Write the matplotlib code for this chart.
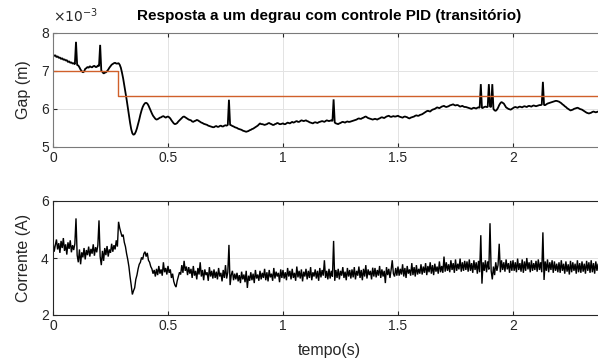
import numpy as np
import matplotlib
matplotlib.use("Agg")
import matplotlib.pyplot as plt

plt.rcParams['font.family'] = ['Liberation Sans', 'DejaVu Sans']

# sampling time (s), 5 ms
tempo = np.round(np.arange(0, 2.4001, 0.005), 3)

# gap (x 1e-3 m), one row per 0.1 s
gap = [
    7.42, 7.39, 7.41, 7.36, 7.38, 7.34, 7.35, 7.31, 7.33, 7.29, 7.30, 7.27, 7.28, 7.23, 7.25, 7.21, 7.22, 7.19, 7.20, 7.17,
    7.76, 7.15, 7.14, 7.09, 7.03, 6.99, 6.96, 6.98, 7.05, 7.07, 7.10, 7.08, 7.12, 7.10, 7.09, 7.12, 7.13, 7.10, 7.10, 7.14,
    7.12, 7.68, 7.00, 6.97, 6.93, 6.95, 6.96, 6.99, 7.03, 7.08, 7.12, 7.16, 7.18, 7.20, 7.21, 7.19, 7.19, 7.20, 7.16, 7.08,
    6.95, 6.80, 6.62, 6.44, 6.25, 6.05, 5.85, 5.64, 5.47, 5.36, 5.32, 5.34, 5.40, 5.49, 5.60, 5.72, 5.85, 5.96, 6.05, 6.11,
    6.15, 6.16, 6.14, 6.09, 6.02, 5.95, 5.88, 5.82, 5.78, 5.74, 5.72, 5.73, 5.75, 5.77, 5.78, 5.80, 5.81, 5.79, 5.77, 5.79,
    5.80, 5.78, 5.75, 5.70, 5.66, 5.62, 5.60, 5.61, 5.63, 5.67, 5.70, 5.73, 5.76, 5.79, 5.80, 5.78, 5.76, 5.74, 5.72, 5.71,
    5.70, 5.67, 5.66, 5.68, 5.69, 5.71, 5.70, 5.68, 5.66, 5.64, 5.63, 5.61, 5.60, 5.59, 5.58, 5.56, 5.55, 5.54, 5.53, 5.52,
    5.52, 5.54, 5.55, 5.53, 5.53, 5.55, 5.56, 5.54, 5.54, 5.56, 5.57, 5.56, 5.58, 6.24, 5.58, 5.57, 5.55, 5.54, 5.52, 5.51,
    5.50, 5.48, 5.47, 5.46, 5.45, 5.43, 5.42, 5.41, 5.40, 5.41, 5.42, 5.44, 5.45, 5.47, 5.48, 5.50, 5.52, 5.54, 5.56, 5.59,
    5.62, 5.60, 5.60, 5.59, 5.58, 5.59, 5.60, 5.62, 5.63, 5.61, 5.60, 5.58, 5.58, 5.60, 5.61, 5.63, 5.62, 5.60, 5.60, 5.61,
    5.62, 5.60, 5.60, 5.62, 5.64, 5.63, 5.62, 5.64, 5.66, 5.64, 5.65, 5.67, 5.68, 5.66, 5.66, 5.68, 5.70, 5.69, 5.68, 5.69,
    5.70, 5.68, 5.67, 5.65, 5.64, 5.63, 5.62, 5.64, 5.65, 5.64, 5.63, 5.65, 5.66, 5.67, 5.68, 5.67, 5.66, 5.68, 5.70, 5.69,
    5.68, 5.69, 5.70, 5.68, 6.25, 5.64, 5.62, 5.61, 5.60, 5.62, 5.63, 5.65, 5.66, 5.65, 5.64, 5.66, 5.67, 5.66, 5.66, 5.67,
    5.68, 5.69, 5.70, 5.71, 5.72, 5.74, 5.75, 5.74, 5.74, 5.76, 5.77, 5.79, 5.80, 5.78, 5.76, 5.75, 5.74, 5.73, 5.72, 5.73,
    5.74, 5.73, 5.72, 5.74, 5.75, 5.77, 5.78, 5.77, 5.76, 5.78, 5.80, 5.81, 5.82, 5.80, 5.79, 5.80, 5.81, 5.80, 5.80, 5.81,
    5.82, 5.80, 5.79, 5.78, 5.77, 5.79, 5.80, 5.79, 5.78, 5.76, 5.75, 5.77, 5.78, 5.79, 5.80, 5.82, 5.83, 5.82, 5.82, 5.84,
    5.85, 5.86, 5.88, 5.90, 5.92, 5.94, 5.95, 5.94, 5.93, 5.96, 5.98, 5.99, 6.00, 6.02, 6.04, 6.03, 6.02, 6.04, 6.06, 6.07,
    6.08, 6.06, 6.05, 6.06, 6.07, 6.09, 6.10, 6.11, 6.12, 6.10, 6.09, 6.10, 6.10, 6.08, 6.06, 6.07, 6.08, 6.06, 6.05, 6.05,
    6.04, 6.03, 6.02, 6.01, 6.00, 6.02, 6.03, 6.02, 6.01, 6.03, 6.04, 6.03, 6.65, 6.02, 6.03, 6.05, 6.06, 6.05, 6.05, 6.65,
    6.06, 6.05, 6.65, 6.00, 5.96, 5.95, 5.98, 6.03, 6.10, 6.15, 6.18, 6.16, 6.14, 6.09, 6.04, 6.02, 6.00, 5.99, 5.98, 6.00,
    6.02, 6.04, 6.05, 6.04, 6.03, 6.05, 6.06, 6.05, 6.04, 6.06, 6.07, 6.06, 6.05, 6.07, 6.08, 6.07, 6.06, 6.08, 6.09, 6.08,
    6.07, 6.08, 6.09, 6.10, 6.10, 6.11, 6.71, 6.10, 6.10, 6.12, 6.14, 6.15, 6.16, 6.17, 6.18, 6.19, 6.20, 6.21, 6.21, 6.20,
    6.19, 6.17, 6.15, 6.12, 6.10, 6.07, 6.05, 6.02, 6.00, 5.98, 5.96, 5.97, 5.98, 6.00, 6.01, 6.02, 6.03, 6.02, 6.00, 5.99,
    5.98, 5.96, 5.94, 5.92, 5.90, 5.89, 5.88, 5.89, 5.90, 5.92, 5.93, 5.92, 5.91, 5.92, 5.93, 5.92, 5.90, 5.91, 5.92, 5.92,
    5.91,
]

# reference (setpoint) step
ref_t = [0.0, 0.281, 0.281, 2.4]
ref_gap = [7.0, 7.0, 6.35, 6.35]

# coil current (A)
corrente = [
    4.58, 4.22, 4.45, 4.65, 4.30, 4.52, 4.18, 4.60, 4.35, 4.70, 4.25, 4.48, 4.12, 4.55, 4.32, 4.62, 4.20, 4.45, 4.28, 4.50,
    5.39, 4.10, 3.85, 4.30, 3.78, 4.20, 4.02, 4.35, 3.95, 4.28, 4.10, 4.40, 4.05, 4.32, 4.15, 4.48, 4.08, 4.38, 4.20, 4.45,
    5.32, 4.05, 3.75, 4.25, 3.90, 4.35, 4.10, 4.42, 4.05, 4.30, 4.18, 4.50, 4.22, 4.45, 4.30, 4.62, 4.40, 5.27, 5.05, 4.90,
    4.75, 4.82, 4.55, 4.40, 4.15, 3.95, 3.70, 3.35, 3.05, 2.72, 2.85, 2.95, 3.25, 3.40, 3.62, 3.78, 3.85, 4.02, 3.95, 4.15,
    4.22, 4.05, 4.18, 3.92, 3.85, 3.70, 3.62, 3.45, 3.58, 3.35, 3.62, 3.40, 3.72, 3.45, 3.60, 3.38, 3.85, 3.50, 3.65, 3.42,
    3.72, 3.48, 3.60, 3.30, 3.45, 3.18, 3.05, 2.98, 3.20, 3.35, 3.50, 3.42, 3.75, 3.48, 3.90, 3.55, 3.70, 3.40, 3.68, 3.45,
    3.62, 3.30, 3.72, 3.38, 3.55, 3.25, 3.65, 3.42, 3.85, 3.35, 3.58, 3.22, 3.60, 3.40, 3.50, 3.20, 3.68, 3.35, 3.55, 3.28,
    3.60, 3.30, 3.52, 3.25, 3.65, 3.35, 3.48, 3.18, 3.58, 3.30, 3.75, 3.28, 3.50, 4.46, 3.05, 3.40, 3.55, 3.22, 3.45, 3.25,
    3.48, 3.18, 3.40, 3.12, 3.52, 3.25, 3.42, 3.15, 3.55, 2.95, 3.38, 3.20, 3.50, 3.22, 3.45, 3.12, 3.58, 3.28, 3.42, 3.20,
    3.55, 3.25, 3.48, 3.30, 3.62, 3.22, 3.50, 3.18, 3.58, 3.32, 3.45, 3.20, 3.65, 3.28, 3.52, 3.35, 3.48, 3.15, 3.60, 3.30,
    3.58, 3.28, 3.50, 3.22, 3.65, 3.35, 3.55, 3.25, 3.62, 3.30, 3.48, 3.20, 3.70, 3.32, 3.55, 3.28, 3.60, 3.18, 3.52, 3.35,
    3.62, 3.25, 3.55, 3.30, 3.68, 3.22, 3.50, 3.35, 3.60, 3.28, 3.55, 3.20, 3.65, 3.32, 3.58, 3.38, 3.92, 3.30, 3.55, 3.25,
    3.62, 3.28, 3.55, 3.35, 4.60, 3.20, 3.58, 3.30, 3.62, 3.25, 3.55, 3.38, 3.68, 3.30, 3.52, 3.22, 3.65, 3.35, 3.58, 3.28,
    3.60, 3.32, 3.68, 3.25, 3.55, 3.38, 3.70, 3.30, 3.58, 3.22, 3.62, 3.35, 3.75, 3.28, 3.60, 3.40, 3.55, 3.25, 3.66, 3.35,
    3.65, 3.32, 3.58, 3.38, 3.72, 3.30, 3.60, 3.35, 3.55, 3.12, 3.68, 3.40, 3.62, 3.30, 3.58, 3.92, 3.45, 3.35, 3.65, 3.38,
    3.70, 3.38, 3.62, 3.42, 3.78, 3.35, 3.65, 3.30, 3.72, 3.45, 3.60, 3.38, 3.82, 3.40, 3.68, 3.35, 3.75, 3.42, 3.62, 3.45,
    3.78, 3.42, 3.70, 3.48, 3.82, 3.40, 3.72, 3.50, 3.85, 3.45, 3.75, 3.40, 3.80, 3.52, 3.70, 3.45, 3.88, 3.50, 3.72, 3.48,
    4.05, 3.52, 3.85, 3.55, 3.78, 3.50, 3.92, 3.58, 3.82, 3.48, 3.95, 3.55, 3.80, 3.60, 3.98, 3.52, 3.85, 3.55, 3.90, 3.58,
    3.88, 3.52, 3.95, 3.55, 3.82, 3.48, 3.92, 3.58, 3.85, 3.45, 3.90, 3.50, 4.80, 3.10, 3.85, 3.55, 3.92, 3.50, 3.88, 3.60,
    5.22, 3.55, 3.25, 3.70, 3.40, 3.85, 3.55, 3.75, 4.50, 3.50, 3.92, 3.58, 3.85, 3.52, 3.95, 3.60, 3.82, 3.48, 3.90, 3.55,
    3.92, 3.55, 3.85, 3.50, 3.98, 3.58, 3.82, 3.52, 3.95, 3.48, 3.88, 3.55, 4.00, 3.60, 3.85, 3.50, 3.92, 3.55, 3.82, 3.58,
    3.90, 3.52, 3.95, 3.58, 3.85, 3.50, 4.90, 3.23, 3.88, 3.55, 3.95, 3.50, 3.85, 3.58, 3.92, 3.48, 3.88, 3.55, 3.80, 3.50,
    3.85, 3.48, 3.92, 3.55, 3.80, 3.45, 3.88, 3.52, 3.78, 3.42, 3.90, 3.50, 3.85, 3.55, 3.80, 3.45, 3.92, 3.50, 3.82, 3.48,
    3.88, 3.52, 3.80, 3.45, 3.90, 3.55, 3.85, 3.48, 3.92, 3.50, 3.82, 3.45, 3.88, 3.55, 3.80, 3.48, 3.90, 3.52, 3.85, 3.50,
    3.88,
]

fig = plt.figure(figsize=(5.98, 3.61), dpi=100)
W, H = 598.0, 361.0
ax1 = fig.add_axes([53 / W, 1 - 147 / H, 552 / W, 114.3 / H])
ax2 = fig.add_axes([53 / W, 1 - 315 / H, 552 / W, 114 / H])

ax1.plot(tempo, gap, color='black', lw=1.3, solid_joinstyle='bevel')
ax1.plot(ref_t, ref_gap, color='#d0602a', lw=1.0)
ax2.plot(tempo, corrente, color='black', lw=1.0, solid_joinstyle='bevel')

for ax, spc in ((ax1, '#7a7a7a'), (ax2, '#262626')):
    ax.set_xlim(0, 2.4)
    ax.set_xticks([0, 0.5, 1, 1.5, 2])
    ax.set_xticklabels(['0', '0.5', '1', '1.5', '2'])
    ax.grid(True, color='#e3e3e3', lw=0.7)
    ax.set_axisbelow(True)
    ax.tick_params(direction='in', length=3, width=0.8, top=True, right=False,
                   labelsize=10, colors='#262626', pad=3)
    for s in ax.spines.values():
        s.set_color(spc)
        s.set_linewidth(0.8)

ax1.set_ylim(5, 8)
ax1.set_yticks([5, 6, 7, 8])
ax1.set_ylabel('Gap (m)', fontsize=11.5, color='#262626', labelpad=7)
ax1.text(0.0, 1.07, r'$\times10^{-3}$', transform=ax1.transAxes, fontsize=10,
         color='#262626', ha='left', va='bottom')
ax1.set_title('Resposta a um degrau com controle PID (transitório)',
              fontsize=11, fontweight='bold', pad=9)

ax2.set_ylim(2, 6)
ax2.set_yticks([2, 4, 6])
ax2.set_ylabel('Corrente (A)', fontsize=11.5, color='#262626', labelpad=7)
ax2.set_xlabel('tempo(s)', fontsize=11.5, color='#262626', labelpad=7)

fig.savefig('out.png', dpi=100)
